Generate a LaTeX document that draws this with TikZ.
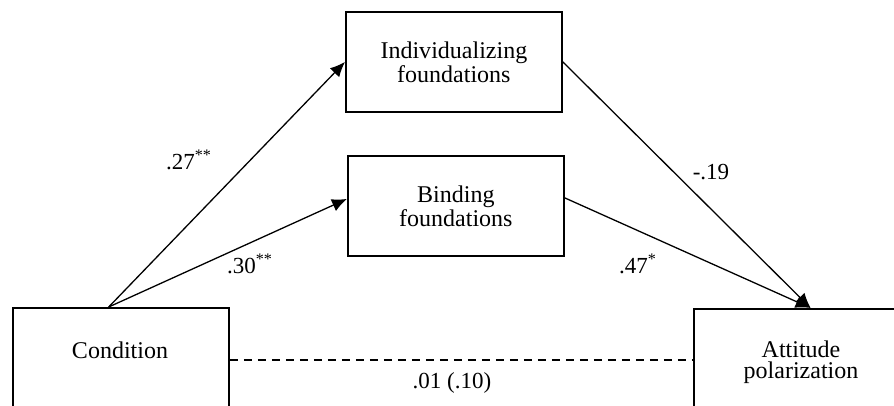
\documentclass[tikz,border=0pt]{standalone}
\usepackage{fontspec}
\setmainfont{Liberation Serif}
\usetikzlibrary{arrows.meta,calc}
\begin{document}
\begin{tikzpicture}[x=0.5pt,y=-0.5pt,
  box/.style={draw,line width=0.9pt,minimum width=108pt,minimum height=50pt,inner sep=0pt,anchor=north west,align=center,font=\fontsize{12}{10.6}\selectfont},
  txt/.style={font=\fontsize{12}{10.6}\selectfont,align=center,inner sep=0pt},
  lbl/.style={font=\fontsize{11.5}{12}\selectfont,inner sep=0pt},
  arr/.style={line width=0.65pt,-{Latex[length=7.5pt,width=6.5pt]}}]
\useasboundingbox (0,0) rectangle (894,406);
\clip (0,0) rectangle (894,406);
\node[box] (ind) at (345,11) {Individualizing\\foundations};
\node[box] (bind) at (347,155) {Binding\\foundations};
\node[box] (cond) at (12,307) {};
\node[txt] (condtxt) at (120,350) {Condition};
\node[box,minimum height=60pt] (att) at (693,308) {};
\node[txt] (atttxt) at (801,362) {Attitude\\polarization};
\coordinate (cstart) at ($(cond.north west)!0.444!(cond.north east)$);
\coordinate (aend) at ($(att.north west)!0.54!(att.north east)$);
\draw[arr] (cstart) -- (ind.west);
\draw[arr] (cstart) -- ([yshift=3.5pt]bind.west);
\draw[arr] (ind.east) -- (aend);
\draw[arr] ([yshift=4pt]bind.east) -- (aend);
\draw[line width=0.65pt,dash pattern=on 4pt off 3pt] (cond.east |- 0,360) coordinate (dstart) -- (att.west |- 0,360) coordinate (dend);
\node[lbl] (l27) at (189,160) {.27\textsuperscript{**}};
\node[lbl] (l30) at (250,264) {.30\textsuperscript{**}};
\node[lbl] (l19) at (711,172) {-.19};
\node[lbl] (l47) at (638,264) {.47\textsuperscript{*}};
\node[lbl] (l01) at (452,383) {.01 (.10)};
\end{tikzpicture}
\end{document}
